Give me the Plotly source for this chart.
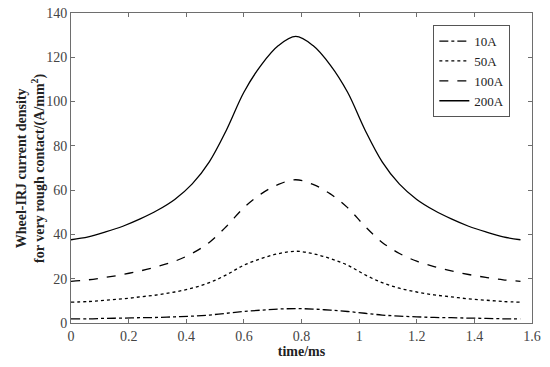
import plotly.graph_objects as go

time_ms = [0.00, 0.06, 0.12, 0.18, 0.24, 0.30, 0.36, 0.42, 0.48, 0.54, 0.60, 0.66, 0.72, 0.78,
           0.84, 0.90, 0.96, 1.02, 1.08, 1.14, 1.20, 1.26, 1.32, 1.38, 1.44, 1.50, 1.56]

j_10A = [1.9, 1.9, 2.1, 2.2, 2.4, 2.5, 2.8, 3.1, 3.6, 4.4, 5.2, 5.8, 6.3, 6.5,
         6.3, 5.8, 5.2, 4.4, 3.6, 3.1, 2.8, 2.5, 2.4, 2.2, 2.1, 1.9, 1.9]
j_50A = [9.4, 9.7, 10.3, 10.9, 11.8, 12.7, 14.0, 15.7, 18.2, 21.8, 26.1, 29.1, 31.3, 32.4,
         31.3, 29.1, 26.1, 21.8, 18.2, 15.7, 14.0, 12.7, 11.8, 10.9, 10.3, 9.7, 9.4]
j_100A = [18.8, 19.5, 20.6, 21.9, 23.5, 25.5, 27.9, 31.4, 36.4, 43.7, 52.1, 58.3, 62.6, 64.7,
          62.6, 58.3, 52.1, 43.7, 36.4, 31.4, 27.9, 25.5, 23.5, 21.9, 20.6, 19.5, 18.8]
j_200A = [37.6, 38.9, 41.1, 43.7, 47.0, 50.9, 55.8, 62.7, 72.8, 87.3, 104.2, 116.5, 125.3, 129.4,
          125.3, 116.5, 104.2, 87.3, 72.8, 62.7, 55.8, 50.9, 47.0, 43.7, 41.1, 38.9, 37.6]

series_names = ["10A", "50A", "100A", "200A"]
series_values = [j_10A, j_50A, j_100A, j_200A]
dashes = ["dashdot", "dot", "dash", "solid"]

x_ticks = [0, 0.2, 0.4, 0.6, 0.8, 1.0, 1.2, 1.4, 1.6]
x_tick_labels = ["0", "0.2", "0.4", "0.6", "0.8", "1", "1.2", "1.4", "1.6"]
y_ticks = [0, 20, 40, 60, 80, 100, 120, 140]

y_title = "<b>Wheel-IRJ current density<br>for very rough contact/(A/mm<sup>2</sup>)</b>"
x_title = "<b>time/ms</b>"

FONT = "Liberation Serif"

fig = go.Figure()
for name, vals, dash in zip(series_names, series_values, dashes):
    fig.add_trace(go.Scatter(
        x=time_ms, y=vals, name=name, mode="lines",
        line=dict(color="black", width=1.3, dash=dash, shape="spline", smoothing=1.0),
    ))

axis_common = dict(
    showgrid=False, zeroline=False, showline=True, linecolor="#6e6e6e", linewidth=1,
    mirror="ticks", ticks="inside", ticklen=4, tickcolor="#6e6e6e",
    tickfont=dict(family=FONT, size=14, color="#444444"),
    automargin=False,
)

fig.update_layout(
    width=550, height=367,
    margin=dict(l=71, r=18, t=13, b=44),
    paper_bgcolor="white", plot_bgcolor="white",
    font=dict(family=FONT, size=14, color="#222222"),
    xaxis=dict(range=[0, 1.6], tickvals=x_ticks, ticktext=x_tick_labels,
               title=dict(text=x_title, font=dict(family=FONT, size=14), standoff=2),
               **axis_common),
    yaxis=dict(range=[0, 140], tickvals=y_ticks, **axis_common),
    legend=dict(x=0.953, y=0.961, xanchor="right", yanchor="top",
                bgcolor="white", bordercolor="#555555", borderwidth=1,
                font=dict(family=FONT, size=13, color="#222222"),
                itemwidth=30, tracegroupgap=0),
    showlegend=True,
    annotations=[dict(
        text=y_title, textangle=-90, xref="paper", yref="paper",
        x=-0.087, y=0.5, xanchor="center", yanchor="middle", showarrow=False,
        font=dict(family=FONT, size=14, color="#222222"),
    )],
)

fig.write_html("out.html", config={"displayModeBar": False},
               post_script="document.body.style.margin='0px';document.body.style.padding='0px';")
